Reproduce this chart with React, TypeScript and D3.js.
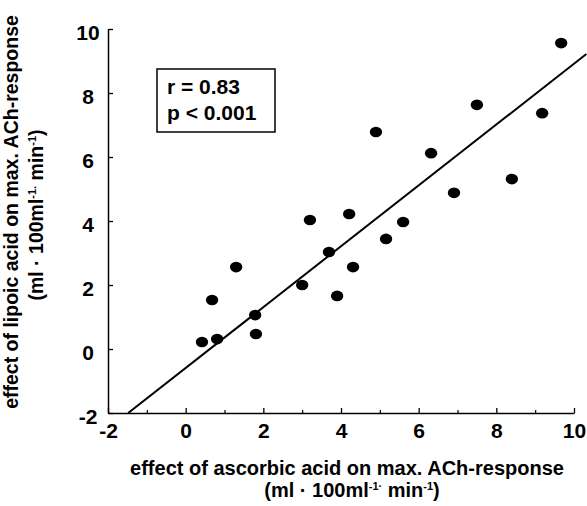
import React, { useRef, useEffect } from 'react'
import * as d3 from 'd3'

// effect of ascorbic acid (x) vs effect of lipoic acid (y), ml·100ml-1·min-1
const ascorbicEffect = [9.67, 7.5, 9.18, 4.9, 6.32, 8.4, 6.91, 3.2, 4.21, 5.6, 5.16, 3.69, 1.3, 4.31, 3.0, 3.9, 0.68, 1.79, 1.81, 0.81, 0.42]
const lipoicEffect = [9.56, 7.63, 7.37, 6.78, 6.12, 5.31, 4.88, 4.03, 4.22, 3.97, 3.44, 3.03, 2.56, 2.56, 2.0, 1.66, 1.53, 1.06, 0.47, 0.31, 0.22]

// regression line end points
const fitX = [-1.48, 10.32]
const fitY = [-2, 9.22]

const majorTicks = [-2, 0, 2, 4, 6, 8, 10]
const minorTicks = [-1, 1, 3, 5, 7, 9]

const statLines = ['r = 0.83', 'p < 0.001']

const FONT = '"Liberation Sans", Arial, Helvetica, sans-serif'

export default function App() {
  const svgRef = useRef<SVGSVGElement>(null)

  useEffect(() => {
    const width = 587
    const height = 506
    const svg = d3.select(svgRef.current)
    svg.selectAll('*').remove()
    svg.attr('viewBox', `0 0 ${width} ${height}`)

    const x = d3.scaleLinear().domain([-2, 10]).range([108, 574])
    const y = d3.scaleLinear().domain([-2, 10]).range([413, 29])

    const styleAxis = (g: any) => {
      g.selectAll('path.domain').attr('stroke-width', 1.5)
      g.selectAll('line').attr('stroke-width', 1.3)
      g.selectAll('text')
        .attr('font-family', FONT)
        .attr('font-weight', 'bold')
        .attr('font-size', 21)
        .attr('fill', '#000')
    }

    // x axis
    const gx = svg.append('g')
      .attr('transform', `translate(0,${y(-2)})`)
      .call(d3.axisBottom(x).tickValues(majorTicks).tickSize(-5).tickSizeOuter(0).tickPadding(10)
        .tickFormat((d: any) => String(d)))
    styleAxis(gx)

    const gxm = svg.append('g')
      .attr('transform', `translate(0,${y(-2)})`)
      .call(d3.axisBottom(x).tickValues(minorTicks).tickSize(-3).tickFormat(() => ''))
    gxm.select('path.domain').remove()
    gxm.selectAll('line').attr('stroke-width', 1.2)

    // y axis
    const gy = svg.append('g')
      .attr('transform', `translate(${x(-2)},0)`)
      .call(d3.axisLeft(y).tickValues(majorTicks).tickSize(-5).tickSizeOuter(0)
        .tickFormat((d: any) => String(d)))
    styleAxis(gy)
    gy.selectAll('text')
      .attr('text-anchor', 'middle')
      .attr('x', -20)
      .attr('dy', '0.48em')

    // regression line
    const line = d3.line<number>()
      .x((d) => x(d))
      .y((_, i) => y(fitY[i]))
    svg.append('path')
      .attr('d', line(fitX))
      .attr('fill', 'none')
      .attr('stroke', '#000')
      .attr('stroke-width', 2)

    // points
    svg.selectAll('ellipse.pt')
      .data(ascorbicEffect)
      .join('ellipse')
      .attr('class', 'pt')
      .attr('cx', (d) => x(d))
      .attr('cy', (_, i) => y(lipoicEffect[i]))
      .attr('rx', 6.2)
      .attr('ry', 5.3)
      .attr('fill', '#000')

    // stats box
    svg.append('rect')
      .attr('x', 157).attr('y', 69)
      .attr('width', 118).attr('height', 63)
      .attr('fill', 'none')
      .attr('stroke', '#000')
      .attr('stroke-width', 1.5)
    statLines.forEach((s, i) => {
      svg.append('text')
        .attr('x', 167)
        .attr('y', 94 + i * 26)
        .attr('font-family', FONT)
        .attr('font-weight', 'bold')
        .attr('font-size', 21)
        .text(s)
    })

    // axis titles
    const unitLine = (t: any, minusDot: string) => {
      t.append('tspan').text('(ml \u00b7 100ml')
      t.append('tspan').attr('font-size', 11).attr('dy', -7).text('-1' + minusDot)
      t.append('tspan').attr('dy', 7).text(' min')
      t.append('tspan').attr('font-size', 11).attr('dy', -7).text('-1')
      t.append('tspan').attr('dy', 7).text(')')
    }

    const xt = svg.append('g')
      .attr('font-family', FONT)
      .attr('font-weight', 'bold')
      .attr('font-size', 20)
      .attr('text-anchor', 'middle')
    xt.append('text').attr('x', 347).attr('y', 475)
      .text('effect of ascorbic acid on max. ACh-response')
    unitLine(xt.append('text').attr('x', 352).attr('y', 497), '\u00b7')

    const yt = svg.append('g')
      .attr('font-family', FONT)
      .attr('font-weight', 'bold')
      .attr('font-size', 19.5)
      .attr('text-anchor', 'middle')
    yt.append('text')
      .attr('transform', 'translate(18,212) rotate(-90)')
      .text('effect of lipoic acid on max. ACh-response')
    unitLine(yt.append('text').attr('transform', 'translate(43,215) rotate(-90)'), '.')
  }, [])

  return (
    <div style={{ position: 'absolute', left: 0, top: 0, width: 587, height: 506, background: '#fff' }}>
      <svg ref={svgRef} width={587} height={506} style={{ display: 'block' }} role="img"
        aria-label="Scatter plot of lipoic acid effect versus ascorbic acid effect on ACh response" />
    </div>
  )
}
